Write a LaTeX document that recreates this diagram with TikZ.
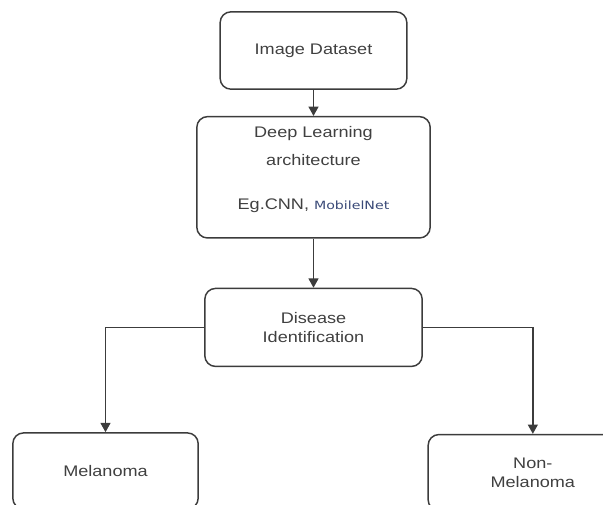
\documentclass[tikz,border=0pt]{standalone}
\usepackage{fontspec}
\setmainfont{Liberation Sans}[FakeStretch=1.18]
\newfontfamily\netfont{DejaVu Sans}[FakeStretch=1.25]
\usepackage{xcolor}
\usepackage{tikz}
\usetikzlibrary{arrows.meta,positioning}
\definecolor{linegray}{HTML}{3C3C3C}
\definecolor{textgray}{HTML}{404040}
\definecolor{netblue}{HTML}{3A4A78}

\begin{document}
\begin{tikzpicture}[x=0.75pt, y=-0.75pt, font=\fontsize{11.5}{14}\selectfont, box/.style={draw=linegray, line width=1.1pt, rounded corners=8pt, align=center, text=textgray}, arr/.style={-{Triangle[length=7pt,width=7.5pt]}, line width=1.1pt, draw=linegray}]
\useasboundingbox (0,0) rectangle (603,504);
\node[box, minimum width=140pt, minimum height=58pt] (data) at (313.5,50.5) {Image Dataset};
\node[box, below=19.5pt of data, minimum width=175pt, minimum height=91pt] (dl) {Deep Learning\\[7pt]architecture\\[19pt]Eg.CNN, {\netfont\fontsize{8.5}{10}\selectfont\color{netblue}MobilelNet}\\\mbox{}};
\node[box, below=36.75pt of dl, minimum width=163pt, minimum height=58.5pt] (dis) {Disease\\Identification};
\node[box, below=48.75pt of dis, xshift=-156pt, minimum width=139pt, minimum height=57pt] (mel) {Melanoma};
\node[box, below=50pt of dis, xshift=164.5pt, minimum width=157pt, minimum height=57pt] (nonmel) {Non-\\Melanoma};
\draw[arr] (data) -- (dl);
\draw[arr] (dl) -- (dis);
\draw[arr] (dis.west) -| (mel.north);
\draw[arr] (dis.east) -| (nonmel.north);
\end{tikzpicture}
\end{document}
